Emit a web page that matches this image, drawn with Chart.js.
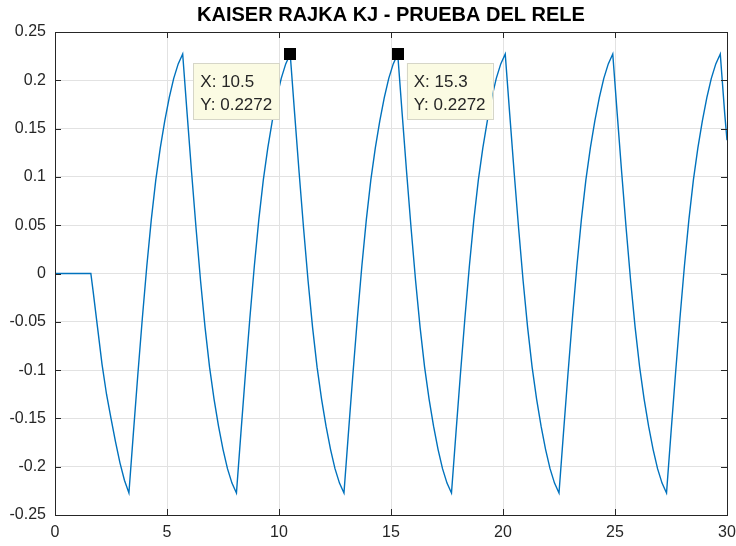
<!DOCTYPE html>
<html>
<head>
<meta charset="utf-8">
<script src="https://cdn.jsdelivr.net/npm/chart.js@4/dist/chart.umd.min.js"></script>
<style>
  html, body { margin: 0; padding: 0; background: #fff; }
  #wrap { width: 736px; height: 546px; }
</style>
</head>
<body>
<div id="wrap"><canvas id="grafico" width="736" height="546"></canvas></div>
<script>
// ── Datos ──────────────────────────────────────────
const titulo = 'KAISER RAJKA KJ - PRUEBA DEL RELE';

const tiempo = [
  0, 1.6, 1.7, 1.9, 2.1, 2.3, 2.5, 2.7, 2.9, 3.1, 3.3,
  3.5, 3.7, 3.9, 4.1, 4.3, 4.5, 4.7, 4.9, 5.1, 5.3, 5.5, 5.7,
  5.9, 6.1, 6.3, 6.5, 6.7, 6.9, 7.1, 7.3, 7.5, 7.7, 7.9, 8.1,
  8.3, 8.5, 8.7, 8.9, 9.1, 9.3, 9.5, 9.7, 9.9, 10.1, 10.3, 10.5,
  10.7, 10.9, 11.1, 11.3, 11.5, 11.7, 11.9, 12.1, 12.3, 12.5, 12.7, 12.9,
  13.1, 13.3, 13.5, 13.7, 13.9, 14.1, 14.3, 14.5, 14.7, 14.9, 15.1, 15.3,
  15.5, 15.7, 15.9, 16.1, 16.3, 16.5, 16.7, 16.9, 17.1, 17.3, 17.5, 17.7,
  17.9, 18.1, 18.3, 18.5, 18.7, 18.9, 19.1, 19.3, 19.5, 19.7, 19.9, 20.1,
  20.3, 20.5, 20.7, 20.9, 21.1, 21.3, 21.5, 21.7, 21.9, 22.1, 22.3, 22.5,
  22.7, 22.9, 23.1, 23.3, 23.5, 23.7, 23.9, 24.1, 24.3, 24.5, 24.7, 24.9,
  25.1, 25.3, 25.5, 25.7, 25.9, 26.1, 26.3, 26.5, 26.7, 26.9, 27.1, 27.3,
  27.5, 27.7, 27.9, 28.1, 28.3, 28.5, 28.7, 28.9, 29.1, 29.3, 29.5, 29.7,
  29.9, 30
];

const salida = [
  0, 0, -0.018, -0.056, -0.094, -0.125, -0.150, -0.174, -0.196, -0.214, -0.2272,
  -0.165, -0.104, -0.046, 0.008, 0.056, 0.097, 0.130, 0.158, 0.182, 0.202, 0.217, 0.2272,
  0.165, 0.104, 0.046, -0.008, -0.056, -0.097, -0.130, -0.158, -0.182, -0.202, -0.217, -0.2272,
  -0.165, -0.104, -0.046, 0.008, 0.056, 0.097, 0.130, 0.158, 0.182, 0.202, 0.217, 0.2272,
  0.165, 0.104, 0.046, -0.008, -0.056, -0.097, -0.130, -0.158, -0.182, -0.202, -0.217, -0.2272,
  -0.165, -0.104, -0.046, 0.008, 0.056, 0.097, 0.130, 0.158, 0.182, 0.202, 0.217, 0.2272,
  0.165, 0.104, 0.046, -0.008, -0.056, -0.097, -0.130, -0.158, -0.182, -0.202, -0.217, -0.2272,
  -0.165, -0.104, -0.046, 0.008, 0.056, 0.097, 0.130, 0.158, 0.182, 0.202, 0.217, 0.2272,
  0.165, 0.104, 0.046, -0.008, -0.056, -0.097, -0.130, -0.158, -0.182, -0.202, -0.217, -0.2272,
  -0.165, -0.104, -0.046, 0.008, 0.056, 0.097, 0.130, 0.158, 0.182, 0.202, 0.217, 0.2272,
  0.165, 0.104, 0.046, -0.008, -0.056, -0.097, -0.130, -0.158, -0.182, -0.202, -0.217, -0.2272,
  -0.165, -0.104, -0.046, 0.008, 0.056, 0.097, 0.130, 0.158, 0.182, 0.202, 0.217, 0.2272,
  0.165, 0.138
];

const xTicks = [0, 5, 10, 15, 20, 25, 30];
const yTicks = [0.25, 0.2, 0.15, 0.1, 0.05, 0, -0.05, -0.1, -0.15, -0.2, -0.25];
const yTickLabels = ['0.25', '0.2', '0.15', '0.1', '0.05', '0', '-0.05', '-0.1', '-0.15', '-0.2', '-0.25'];

// datatips (X, Y) y lado de la caja
const tipX = [10.5, 15.3];
const tipY = [0.2272, 0.2272];
const tipLado = ['izq', 'der'];

// ── Estilo ──────────────────────────────────────────
const FONT = '"Liberation Sans", Arial, sans-serif';
const EJE = '#262626';
const AZUL = '#0072BD';

// ── Plugin estilo MATLAB (título, caja, marcas, datatips) ──
const estiloMatlab = {
  id: 'estiloMatlab',
  afterDraw(chart) {
    const { ctx, chartArea: a, scales: { x, y } } = chart;
    ctx.save();

    // título centrado sobre el área de ejes
    ctx.fillStyle = '#000';
    ctx.font = 'bold 20px ' + FONT;
    ctx.textAlign = 'center';
    ctx.textBaseline = 'middle';
    ctx.fillText(titulo, (a.left + a.right) / 2, 15);

    // caja de los ejes
    ctx.strokeStyle = EJE;
    ctx.lineWidth = 1;
    ctx.strokeRect(Math.round(a.left) + 0.5, Math.round(a.top) + 0.5,
                   Math.round(a.right - a.left), Math.round(a.bottom - a.top));

    // marcas hacia dentro
    ctx.beginPath();
    xTicks.forEach(v => {
      const px = Math.round(x.getPixelForValue(v)) + 0.5;
      ctx.moveTo(px, a.bottom); ctx.lineTo(px, a.bottom - 6);
      ctx.moveTo(px, a.top);    ctx.lineTo(px, a.top + 6);
    });
    yTicks.forEach(v => {
      const py = Math.round(y.getPixelForValue(v)) + 0.5;
      ctx.moveTo(a.left, py);  ctx.lineTo(a.left + 6, py);
      ctx.moveTo(a.right, py); ctx.lineTo(a.right - 6, py);
    });
    ctx.stroke();

    // datatips
    ctx.font = '17px ' + FONT;
    tipX.forEach((tx, i) => {
      const px = x.getPixelForValue(tx);
      const py = y.getPixelForValue(tipY[i]);
      const l1 = 'X: ' + tx;
      const l2 = 'Y: ' + tipY[i].toFixed(4);
      const w = Math.max(ctx.measureText(l1).width, ctx.measureText(l2).width) + 14;
      const h = 56;
      const bx = tipLado[i] === 'izq' ? px - 11 - w : px + 9;
      const by = py + 9;

      ctx.fillStyle = '#fbfbe3';
      ctx.strokeStyle = '#d6d6c8';
      ctx.fillRect(bx, by, w, h);
      ctx.strokeRect(Math.round(bx) + 0.5, Math.round(by) + 0.5, Math.round(w), h);

      ctx.fillStyle = '#262626';
      ctx.textAlign = 'left';
      ctx.textBaseline = 'middle';
      ctx.fillText(l1, bx + 7, by + 19);
      ctx.fillText(l2, bx + 7, by + 42);

      ctx.fillStyle = '#000';
      ctx.fillRect(Math.round(px) - 6, Math.round(py) - 6, 12, 12);
    });

    ctx.restore();
  }
};

// ── Gráfico ─────────────────────────────────────────
new Chart(document.getElementById('grafico'), {
  type: 'line',
  data: {
    datasets: [{
      data: tiempo.map((t, i) => ({ x: t, y: salida[i] })),
      borderColor: AZUL,
      borderWidth: 1.4,
      pointRadius: 0,
      tension: 0,
      fill: false,
    }]
  },
  options: {
    responsive: false,
    animation: false,
    devicePixelRatio: 1,
    layout: { padding: { left: 0, right: 0, top: 32, bottom: 0 } },
    plugins: {
      legend: { display: false },
      title: { display: false },
      tooltip: { enabled: false }
    },
    scales: {
      x: {
        type: 'linear',
        min: 0, max: 30,
        afterBuildTicks: s => { s.ticks = xTicks.map(v => ({ value: v })); },
        afterFit: s => { s.height = 31; s.paddingLeft = 0; s.paddingRight = 9; },
        grid: { color: '#e2e2e2', drawTicks: false },
        border: { display: false },
        ticks: {
          padding: 8, color: EJE, maxRotation: 0,
          font: { family: FONT, size: 16 },
          callback: v => String(v)
        }
      },
      y: {
        type: 'linear',
        min: -0.25, max: 0.25,
        afterBuildTicks: s => { s.ticks = yTicks.map(v => ({ value: v })); },
        afterFit: s => { s.width = 55; },
        grid: { color: '#e2e2e2', drawTicks: false },
        border: { display: false },
        ticks: {
          padding: 9, color: EJE,
          font: { family: FONT, size: 16 },
          callback: (v, i) => yTickLabels[i]
        }
      }
    }
  },
  plugins: [estiloMatlab]
});
</script>
</body>
</html>
